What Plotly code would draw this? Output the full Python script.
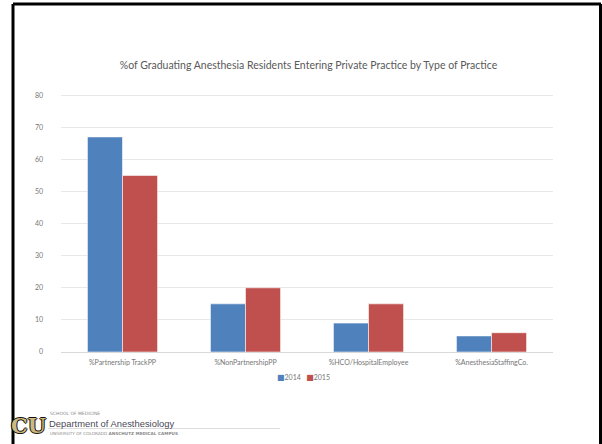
import plotly.graph_objects as go

# Practice types and the share of graduating residents in each (percent)
categories = ["%Partnership TrackPP", "%NonPartnershipPP", "%HCO/HospitalEmployee", "%AnesthesiaStaffingCo."]
values_2014 = [67, 15, 9, 5]
values_2015 = [55, 20, 15, 6]
series_names = ["2014", "2015"]
y_ticks = [0, 10, 20, 30, 40, 50, 60, 70, 80]

W, H = 602, 444
L, R, T, B = 61, 49, 92, 92
PW, PH = W - L - R, H - T - B
Y_MAX = 81


def px(x):
    """Pixel x -> paper fraction (relative to plot area)."""
    return (x - L) / PW


def py(y):
    """Pixel y (from top) -> paper fraction (relative to plot area)."""
    return (H - B - y) / PH


BLUE = "#4F81BD"
RED = "#C0504D"
TXT = "#595959"
FONT = "Lato, 'Open Sans', sans-serif"

fig = go.Figure()
fig.add_trace(go.Bar(
    x=categories, y=values_2014, name=series_names[0],
    marker=dict(color=BLUE, line=dict(color="rgba(255,255,255,0.55)", width=1)),
))
fig.add_trace(go.Bar(
    x=categories, y=values_2015, name=series_names[1],
    marker=dict(color=RED, line=dict(color="rgba(255,255,255,0.55)", width=1)),
))

fig.update_layout(
    width=W, height=H,
    margin=dict(l=L, r=R, t=T, b=B, pad=0),
    paper_bgcolor="white", plot_bgcolor="white",
    barmode="group", bargap=0.43, bargroupgap=0,
    font=dict(family=FONT, color=TXT, size=7),
    title=dict(
        text="%of Graduating Anesthesia Residents Entering Private Practice by Type of Practice",
        x=308.5 / W, xanchor="center", xref="container",
        y=1 - 65 / H, yanchor="middle", yref="container",
        font=dict(family=FONT, size=10.5, color=TXT),
    ),
    showlegend=False,
    xaxis=dict(
        showgrid=False, showline=True, linecolor="#d9d9d9", linewidth=1,
        ticks="", ticklabelstandoff=4,
        tickfont=dict(family=FONT, size=7, color="#767676"),
    ),
    yaxis=dict(
        range=[0, Y_MAX], tickvals=y_ticks, showgrid=True, gridcolor="#e8e8e8",
        gridwidth=1, zeroline=False, showline=False, ticks="",
        ticklabelstandoff=17,
        tickfont=dict(family=FONT, size=7, color="#767676"),
    ),
)

# Compact legend row under the category labels
sq = "<span style='font-family:DejaVu Sans;font-size:8px;color:{c}'>■</span>"
legend_text = (sq.format(c=BLUE) + series_names[0] + "&nbsp;&nbsp;&nbsp;"
               + sq.format(c=RED) + series_names[1])
fig.add_annotation(
    x=px(303), y=py(377.5), xref="paper", yref="paper", text=legend_text,
    showarrow=False, xanchor="center", yanchor="middle",
    font=dict(family=FONT, size=7, color="#767676"),
)

# Slide frame (dark border on top, left and right)
frame = dict(type="line", xref="paper", yref="paper", line=dict(color="black", width=3), layer="above")
fig.add_shape(**frame, x0=px(13), x1=px(601), y0=py(4), y1=py(4))
fig.add_shape(**frame, x0=px(13), x1=px(13), y0=py(4), y1=py(446))
fig.add_shape(**frame, x0=px(600.5), x1=px(600.5), y0=py(4), y1=py(446))

# Department footer
fig.add_annotation(
    x=px(28), y=py(425.5), xref="paper", yref="paper", text="<b>CU</b>",
    showarrow=False, xanchor="center", yanchor="middle",
    font=dict(family="DejaVu Serif", size=21, color="#CFB87C",
              shadow="1px 0 0 #111, -1px 0 0 #111, 0 1px 0 #111, 0 -1px 0 #111"),
)
fig.add_annotation(
    x=px(48), y=py(413), xref="paper", yref="paper", text="SCHOOL OF MEDICINE",
    showarrow=False, xanchor="left", yanchor="middle",
    font=dict(family="DejaVu Sans", size=4.5, color="#8a8a8a"),
)
fig.add_annotation(
    x=px(47), y=py(423), xref="paper", yref="paper", text="Department of Anesthesiology",
    showarrow=False, xanchor="left", yanchor="middle",
    font=dict(family="Liberation Sans", size=9.4, color="#4a4a58"),
)
fig.add_annotation(
    x=px(48), y=py(433.5), xref="paper", yref="paper",
    text="UNIVERSITY OF COLORADO <b>ANSCHUTZ MEDICAL CAMPUS</b>",
    showarrow=False, xanchor="left", yanchor="middle",
    font=dict(family="DejaVu Sans", size=4.2, color="#8a8a8a"),
)
fig.add_shape(type="line", xref="paper", yref="paper",
              x0=px(48), x1=px(280), y0=py(428.5), y1=py(428.5),
              line=dict(color="#dddddd", width=1))

fig.write_html("out.html")
